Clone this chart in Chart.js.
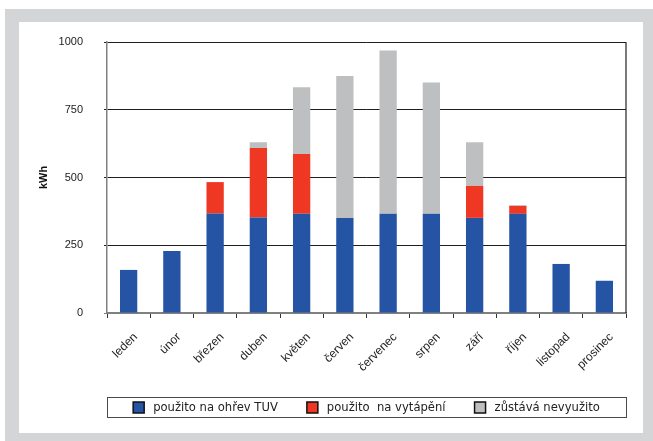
<!DOCTYPE html>
<html lang="cs">
<head>
<meta charset="utf-8">
<script src="https://cdn.jsdelivr.net/npm/chart.js@4/dist/chart.umd.min.js"></script>
<style>
  html, body { margin: 0; padding: 0; background: #ffffff; }
  #frame {
    position: absolute; left: 5px; top: 9px; width: 648px; height: 432px;
    background: #d4d5d6;
  }
  #panel {
    position: absolute; left: 14px; top: 13px; width: 624px; height: 411px;
    background: #ffffff;
  }
  canvas { display: block; }
</style>
</head>
<body>
<div id="frame"><div id="panel"><canvas id="chart" width="624" height="411"></canvas></div></div>
<script>
// Měsíce
const months = ['leden', 'únor', 'březen', 'duben', 'květen', 'červen',
                'červenec', 'srpen', 'září', 'říjen', 'listopad', 'prosinec'];

// Energie v kWh
const hotWater = [159, 229, 367, 352, 366, 351, 366, 366, 351, 366, 181, 119];
const heating  = [0, 0, 116, 257, 221, 0, 0, 0, 118, 29, 0, 0];
const unused   = [0, 0, 0, 21, 246, 524, 603, 485, 161, 3, 0, 0];

const seriesNames = ['použito na ohřev TUV', 'použito  na vytápění', 'zůstává nevyužito'];
const seriesColors = ['#2554a4', '#ee3824', '#bebfc1'];

const yTicks = [0, 250, 500, 750, 1000];

// Rámeček vpravo od grafu
const rightBorder = {
  id: 'rightBorder',
  afterDraw(chart) {
    const { ctx, chartArea: a } = chart;
    ctx.save();
    ctx.strokeStyle = '#222';
    ctx.lineWidth = 1.2;
    ctx.beginPath();
    ctx.moveTo(a.right, a.top);
    ctx.lineTo(a.right, a.bottom);
    ctx.stroke();
    ctx.restore();
  }
};

// Legenda v orámovaném boxu pod grafem
const boxedLegend = {
  id: 'boxedLegend',
  afterDraw(chart) {
    const { ctx, chartArea: a } = chart;
    const top = a.bottom + 84, h = 20;
    ctx.save();
    ctx.strokeStyle = '#4a4a4a';
    ctx.lineWidth = 1;
    ctx.strokeRect(Math.round(a.left) + 0.5, top + 0.5, Math.round(a.right - a.left), h);
    ctx.font = '11.6px "DejaVu Sans"';
    ctx.textBaseline = 'middle';
    const sw = 11, gapText = 9, gapItem = 29;
    const items = chart.data.datasets.map(d => ({
      label: d.label, color: d.backgroundColor, w: ctx.measureText(d.label).width
    }));
    let total = 0;
    items.forEach((it, i) => { total += sw + gapText + it.w + (i ? gapItem : 0); });
    let x = (a.left + a.right) / 2 - total / 2;
    const cy = top + h / 2 + 0.5;
    items.forEach(it => {
      ctx.fillStyle = it.color;
      ctx.fillRect(x, cy - sw / 2, sw, sw);
      ctx.strokeStyle = '#111';
      ctx.lineWidth = 1.5;
      ctx.strokeRect(x, cy - sw / 2, sw, sw);
      ctx.fillStyle = '#222';
      ctx.fillText(it.label, x + sw + gapText, cy);
      x += sw + gapText + it.w + gapItem;
    });
    ctx.restore();
  }
};

const tickFont = { family: '"Liberation Sans", Arial, sans-serif', size: 11 };

new Chart(document.getElementById('chart'), {
  type: 'bar',
  data: {
    labels: months,
    datasets: [
      { label: seriesNames[0], data: hotWater, backgroundColor: seriesColors[0] },
      { label: seriesNames[1], data: heating,  backgroundColor: seriesColors[1] },
      { label: seriesNames[2], data: unused,   backgroundColor: seriesColors[2] }
    ]
  },
  options: {
    responsive: false,
    animation: false,
    events: [],
    layout: { padding: { left: 0, right: 17, top: 20, bottom: 0 } },
    datasets: { bar: { barPercentage: 0.4, categoryPercentage: 1.0, borderWidth: 0 } },
    plugins: {
      legend: { display: false },
      tooltip: { enabled: false }
    },
    scales: {
      x: {
        stacked: true,
        offset: true,
        afterFit(scale) { scale.height = 120; },
        grid: {
          offset: true, drawOnChartArea: false, drawTicks: true,
          tickLength: 5, color: '#333', lineWidth: 1
        },
        border: { color: '#808080', width: 1.5 },
        ticks: {
          font: { family: '"Liberation Sans", Arial, sans-serif', size: 12 },
          color: '#222',
          minRotation: 45, maxRotation: 45, autoSkip: false,
          padding: 12, labelOffset: 7
        }
      },
      y: {
        stacked: true,
        min: 0, max: 1000,
        afterFit(scale) {
          scale.width = 88;
          // wide label gap should not push the plot down
          scale.paddingTop = 0;
          scale.paddingBottom = 0;
        },
        afterBuildTicks(scale) { scale.ticks = yTicks.map(v => ({ value: v })); },
        grid: {
          tickLength: 3,
          lineWidth: 1,
          color: ctx => (ctx.tick && ctx.tick.value === 0) ? '#808080' : '#1e1e1e'
        },
        border: { color: '#808080', width: 1.5 },
        ticks: { font: tickFont, color: '#222', padding: 21, callback: v => String(v) },
        title: {
          display: true, text: 'kWh', color: '#111',
          font: { family: '"Liberation Sans", Arial, sans-serif', size: 11, weight: 'bold' },
          padding: { top: 18, bottom: 0 }
        }
      }
    }
  },
  plugins: [rightBorder, boxedLegend]
});
</script>
</body>
</html>
